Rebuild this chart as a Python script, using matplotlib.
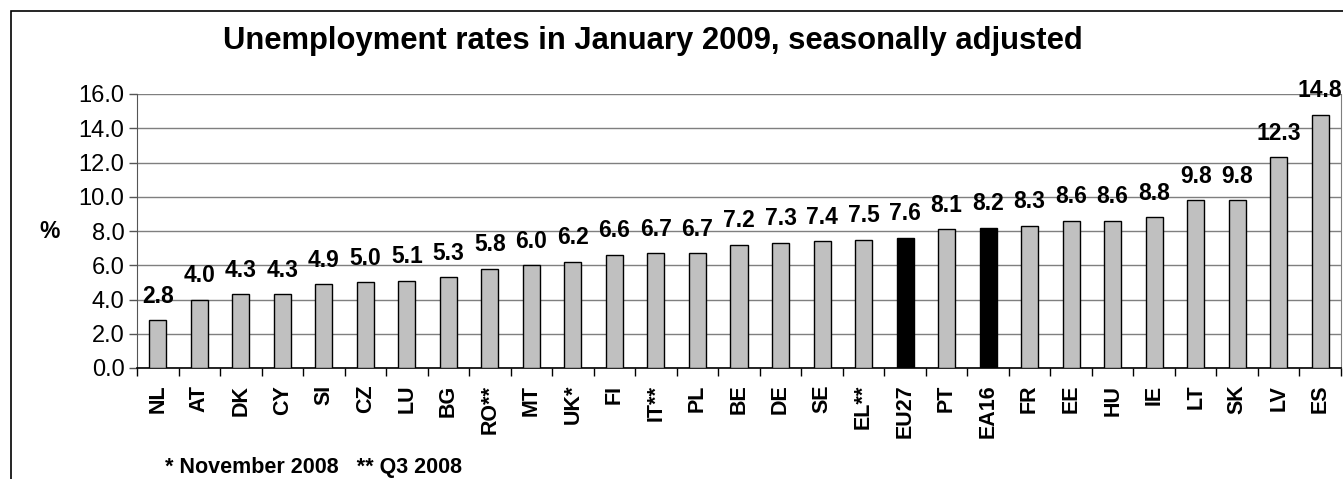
import numpy as np
import matplotlib
matplotlib.use("Agg")
import matplotlib.pyplot as plt
from matplotlib.patches import Rectangle

plt.rcParams['font.family'] = ['Liberation Sans', 'DejaVu Sans']

# data
countries = ["NL", "AT", "DK", "CY", "SI", "CZ", "LU", "BG", "RO**", "MT", "UK*",
             "FI", "IT**", "PL", "BE", "DE", "SE", "EL**", "EU27", "PT", "EA16",
             "FR", "EE", "HU", "IE", "LT", "SK", "LV", "ES"]
rates = [2.8, 4.0, 4.3, 4.3, 4.9, 5.0, 5.1, 5.3, 5.8, 6.0, 6.2,
         6.6, 6.7, 6.7, 7.2, 7.3, 7.4, 7.5, 7.6, 8.1, 8.2,
         8.3, 8.6, 8.6, 8.8, 9.8, 9.8, 12.3, 14.8]
highlight = ["EU27", "EA16"]
yticks = [0, 2, 4, 6, 8, 10, 12, 14, 16]

fig = plt.figure(figsize=(13.43, 4.79), dpi=100)
W, H = 1343, 479
# outer chart frame
fig.patches.append(Rectangle((11 / W, -0.1), 1.2, (479 - 11) / H + 0.1,
                             transform=fig.transFigure, fill=False,
                             edgecolor="black", linewidth=1.2))

ax = fig.add_axes([137 / W, 1 - 368 / H, (1341 - 137) / W, (368 - 94) / H])
x = np.arange(len(countries))
colors = ["black" if c in highlight else "#c0c0c0" for c in countries]
ax.bar(x, rates, width=0.41, color=colors, edgecolor="black", linewidth=1.0, zorder=3)

for xi, v in zip(x, rates):
    ax.annotate("%.1f" % v, (xi, v), xytext=(0, 24), textcoords="offset pixels",
                ha="center", va="center", fontsize=16.5, fontweight="bold", zorder=4,
                annotation_clip=False)

ax.set_xlim(-0.5, len(countries) - 0.5)
ax.set_ylim(0, 16)
ax.set_yticks(yticks)
ax.set_yticklabels(["%.1f" % t for t in yticks], fontsize=17)
ax.yaxis.grid(True, color="#7f7f7f", linewidth=1.0, zorder=0)
ax.tick_params(axis="y", direction="out", length=6, width=1, color="#555555", pad=3)

ax.set_xticks(x)
ax.set_xticklabels(countries, rotation=90, fontsize=15.5, fontweight="bold")
ax.tick_params(axis="x", length=0, pad=12)
ax.set_xticks(np.arange(-0.5, len(countries)), minor=True)
ax.tick_params(axis="x", which="minor", direction="out", length=6, width=1, color="black")

ax.spines["top"].set_visible(False)
ax.spines["left"].set_color("#555555")
ax.spines["right"].set_color("#7f7f7f")
ax.spines["bottom"].set_color("black")
ax.spines["bottom"].set_linewidth(1.2)

fig.text(50 / W, 1 - 232 / H, "%", fontsize=16.5, fontweight="bold", ha="center", va="center")
fig.text(653 / W, 1 - 41 / H, "Unemployment rates in January 2009, seasonally adjusted",
         fontsize=22.3, fontweight="bold", ha="center", va="center")
fig.text(165 / W, 1 - 468 / H, "* November 2008   ** Q3 2008", fontsize=15.5,
         fontweight="bold", ha="left", va="center")

fig.savefig("out.png", dpi=100)
